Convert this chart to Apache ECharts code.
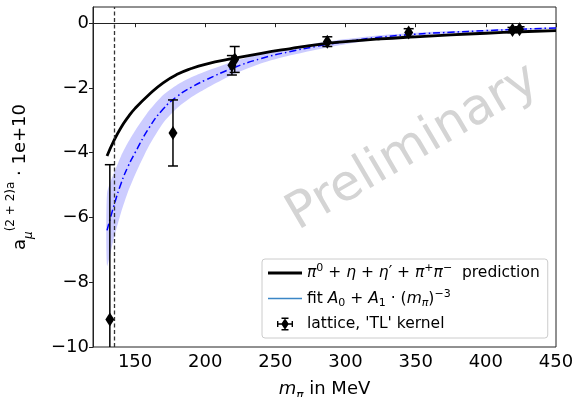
<!DOCTYPE html>
<html>
<head>
<meta charset="utf-8">
<script src="https://cdn.jsdelivr.net/npm/echarts@6/dist/echarts.min.js"></script>
<style>html,body{margin:0;padding:0;background:#fff}#c{width:577px;height:397px}</style>
</head>
<body>
<div id="c"></div>
<script>
// ---- data ----
var massGrid   = [130,135,140,145,150,160,170,180,190,200,220,240,260,280,300,325,350,375,400,425,450];
var prediction = [-4.10,-3.62,-3.22,-2.90,-2.63,-2.20,-1.84,-1.58,-1.40,-1.27,-1.09,-0.93,-0.79,-0.66,-0.57,-0.485,-0.42,-0.36,-0.31,-0.265,-0.23];
var fitCentral = [-6.40,-5.62,-4.95,-4.42,-4.00,-3.23,-2.65,-2.26,-1.98,-1.76,-1.38,-1.09,-0.88,-0.71,-0.57,-0.43,-0.34,-0.28,-0.23,-0.185,-0.145];
var fitUpper   = [-5.25,-4.62,-4.10,-3.68,-3.32,-2.70,-2.22,-1.90,-1.67,-1.49,-1.18,-0.94,-0.76,-0.61,-0.49,-0.37,-0.295,-0.245,-0.20,-0.16,-0.125];
var fitLower   = [-7.50,-6.62,-5.85,-5.20,-4.68,-3.78,-3.08,-2.62,-2.29,-2.03,-1.58,-1.24,-1.00,-0.81,-0.65,-0.49,-0.385,-0.315,-0.26,-0.21,-0.165];
var latMass = [132, 177, 219, 221, 287, 345, 419, 424];
var latVal  = [-9.15, -3.39, -1.30, -1.12, -0.57, -0.29, -0.21, -0.19];
var latErr  = [4.78, 1.02, 0.30, 0.40, 0.15, 0.12, 0.08, 0.08];
var physMass = 135;
var xTicks = [150,200,250,300,350,400,450];
var yTicks = [-10,-8,-6,-4,-2,0];
var seriesNames = ["\u03c0\u2070 + \u03b7 + \u03b7\u2032 + \u03c0\u207a\u03c0\u207b  prediction", "fit", "lattice, 'TL' kernel"];

var FONT = 'DejaVu Sans';
var chart = echarts.init(document.getElementById('c'), null, {renderer: 'canvas'});

function zip(a, b) { return a.map(function (v, i) { return [v, b[i]]; }); }

var bandData = [massGrid.map(function (m, i) { return [m, fitUpper[i], fitLower[i]]; })];
var latData = latMass.map(function (m, i) { return [m, latVal[i], latErr[i]]; });

var legendIcon = 'path://M0,6 L0,6.01 Z M34,6 L34,6.01 Z ' +
  'M13.5,0 H20.5 V1.4 H13.5 Z M13.5,11.6 H20.5 V13 H13.5 Z M16.3,0 H17.7 V13 H16.3 Z ' +
  'M9,5.8 H25 V7.2 H9 Z M9,3.5 H10.4 V9.5 H9 Z M23.6,3.5 H25 V9.5 H23.6 Z ' +
  'M17,0.8 L20.8,6.5 L17,12.2 L13.2,6.5 Z';

var option = {
  animation: false,
  backgroundColor: '#fff',
  textStyle: {fontFamily: FONT},
  grid: {left: 93, right: 21, top: 7, bottom: 50, show: true, borderColor: '#222', borderWidth: 1,
         backgroundColor: 'transparent', containLabel: false, outerBoundsMode: 'none'},
  xAxis: {
    type: 'value', min: 120, max: 450,
    name: '{i|m}{sub|\u03c0} in MeV', nameLocation: 'middle', nameGap: 20,
    nameTextStyle: {fontFamily: FONT, fontSize: 18, color: '#000', lineHeight: 26,
      rich: {i: {fontStyle: 'italic', fontSize: 18, fontFamily: FONT, lineHeight: 26, verticalAlign: 'middle'},
             sub: {fontStyle: 'italic', fontSize: 12, fontFamily: FONT, lineHeight: 26, verticalAlign: 'bottom'}}},
    axisLine: {show: true, lineStyle: {color: '#222', width: 1}},
    axisTick: {show: true, length: 4, customValues: xTicks, lineStyle: {color: '#222'}},
    axisLabel: {customValues: xTicks, fontSize: 18, color: '#000', fontFamily: FONT, margin: 6},
    splitLine: {show: false}
  },
  yAxis: {
    type: 'value', min: -10, max: 0.5,
    name: 'a{sub|\u03bc}{sup|(2 + 2)a} \u00b7 1e+10', nameLocation: 'middle', nameRotate: 90, nameGap: 58,
    nameTextStyle: {fontFamily: FONT, fontSize: 18, color: '#000', lineHeight: 30,
      rich: {sub: {fontStyle: 'italic', fontSize: 12, fontFamily: FONT, lineHeight: 30, verticalAlign: 'bottom'},
             sup: {fontSize: 12, fontFamily: FONT, lineHeight: 30, verticalAlign: 'top'}}},
    axisLine: {show: true, lineStyle: {color: '#222', width: 1}},
    axisTick: {show: true, length: 4, customValues: yTicks, lineStyle: {color: '#222'}},
    axisLabel: {customValues: yTicks, fontSize: 18, color: '#000', fontFamily: FONT, margin: 4,
      formatter: function (v) { return v < 0 ? '\u2212' + Math.abs(v) : String(v); }},
    splitLine: {show: false}
  },
  legend: {
    orient: 'vertical', left: 262, top: 259,
    padding: [4, 8, 4, 6], itemGap: 5.5, itemWidth: 34, itemHeight: 13,
    backgroundColor: 'rgba(255,255,255,0.85)', borderColor: '#cccccc', borderWidth: 1, borderRadius: 3,
    textStyle: {fontFamily: FONT, fontSize: 15.5, color: '#000', lineHeight: 20,
      rich: {i: {fontStyle: 'italic', fontSize: 15.5, fontFamily: FONT, lineHeight: 20},
             sb: {fontStyle: 'italic', fontSize: 11, fontFamily: FONT, lineHeight: 20, verticalAlign: 'bottom'},
             sbn: {fontSize: 11, fontFamily: FONT, lineHeight: 20, verticalAlign: 'bottom'},
             sp: {fontSize: 11, fontFamily: FONT, lineHeight: 20, verticalAlign: 'top'}}},
    formatter: function (name) {
      if (name === seriesNames[0]) return '{i|\u03c0}{sp|0} + {i|\u03b7} + {i|\u03b7}\u2032 + {i|\u03c0}{sp|+}{i|\u03c0}{sp|\u2212}  prediction';
      if (name === seriesNames[1]) return 'fit {i|A}{sbn|0} + {i|A}{sbn|1} \u00b7 ({i|m}{sb|\u03c0}){sp|\u22123}';
      return name;
    },
    data: [
      {name: seriesNames[0], icon: 'path://M0,0 H34 V2.8 H0 Z', itemStyle: {color: '#000'}},
      {name: seriesNames[1], icon: 'path://M0,0 H34 V1.6 H0 Z', itemStyle: {color: '#3b86c6'}},
      {name: seriesNames[2], icon: legendIcon, itemStyle: {color: '#000'}}
    ]
  },
  graphic: [{
    type: 'text', x: 413, y: 148, rotation: 0.53, z: 0, silent: true,
    style: {text: 'Preliminary', fontFamily: FONT, fontSize: 50, fill: '#d4d4d4', textAlign: 'center', textVerticalAlign: 'middle'}
  }],
  series: [
    {
      type: 'custom', name: 'band', coordinateSystem: 'cartesian2d', clip: true, z: 1,
      data: bandData,
      renderItem: function (params, api) {
        var pts = bandData[0];
        var up = pts.map(function (p) { return api.coord([p[0], p[1]]); });
        var lo = pts.slice().reverse().map(function (p) { return api.coord([p[0], p[2]]); });
        return {type: 'polygon', shape: {points: up.concat(lo), smooth: 0.2}, style: {fill: 'rgba(0,0,255,0.2)', stroke: 'none'}};
      },
      encode: {x: 0, y: 1}
    },
    {
      type: 'line', name: seriesNames[1], data: zip(massGrid, fitCentral), symbol: 'none', smooth: 0.5, z: 3,
      lineStyle: {color: '#0000ff', width: 1.5, type: [7, 3, 1.5, 3]}, itemStyle: {color: '#3b86c6'}
    },
    {
      type: 'line', name: seriesNames[0], data: zip(massGrid, prediction), symbol: 'none', smooth: 0.5, z: 4,
      lineStyle: {color: '#000', width: 2.8}, itemStyle: {color: '#000'},
      markLine: {silent: true, symbol: ['none', 'none'], label: {show: false},
        lineStyle: {color: '#333', width: 1.3, type: [4, 2.5]}, data: [{xAxis: physMass}]}
    },
    {
      type: 'custom', name: seriesNames[2], coordinateSystem: 'cartesian2d', clip: true, z: 5,
      itemStyle: {color: '#000'},
      data: latData, encode: {x: 0, y: 1},
      renderItem: function (params, api) {
        var x = api.value(0), y = api.value(1), e = api.value(2);
        var c = api.coord([x, y]), t = api.coord([x, y + e]), b = api.coord([x, y - e]);
        var cw = 5, dw = 4.5, dh = 7;
        var st = {stroke: '#000', lineWidth: 1.5};
        return {type: 'group', children: [
          {type: 'line', shape: {x1: t[0], y1: t[1], x2: b[0], y2: b[1]}, style: st},
          {type: 'line', shape: {x1: t[0] - cw, y1: t[1], x2: t[0] + cw, y2: t[1]}, style: st},
          {type: 'line', shape: {x1: b[0] - cw, y1: b[1], x2: b[0] + cw, y2: b[1]}, style: st},
          {type: 'polygon', shape: {points: [[c[0], c[1] - dh], [c[0] + dw, c[1]], [c[0], c[1] + dh], [c[0] - dw, c[1]]]}, style: {fill: '#000'}}
        ]};
      }
    }
  ]
};
chart.setOption(option);
</script>
</body>
</html>
